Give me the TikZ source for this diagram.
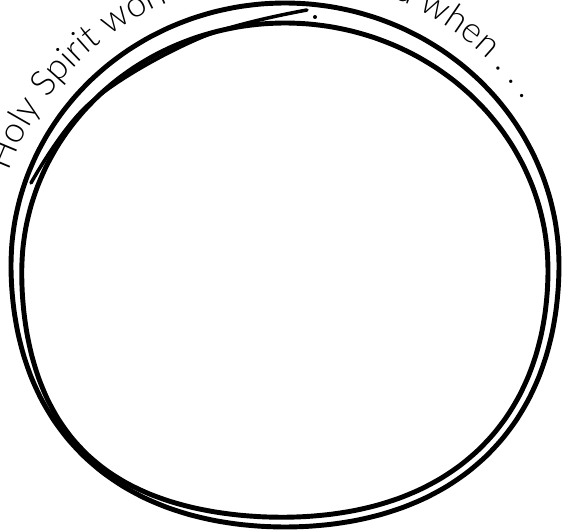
\documentclass[tikz,border=0pt]{standalone}
\usepackage{fontspec}
\setmainfont{Lato}[UprightFont=* Light]
\usetikzlibrary{decorations.text}
\begin{document}
\begin{tikzpicture}[
    sketch/.style={line width=2.8pt,line cap=round,line join=round},
    declare function={sq(\t)=1+0.035*sin(2*\t)*sin(2*\t)*(sin(\t)<0);
                      bump(\t)=0.025*exp(-((\t-225)/25)^2);}]
  \useasboundingbox (0,0) rectangle (11.42,10.62);
  \clip (0,0) rectangle (11.42,10.62);
  \coordinate (centre) at (5.70,5.18);
  % Circle - outer loop
  \draw[sketch] plot[smooth cycle,domain=0:355,samples=72,variable=\t]
    ({5.70+5.48*cos(\t)*sq(\t)},{5.32+5.24*sin(\t)*sq(\t)});
  % Circle - inner loop
  \draw[sketch] plot[smooth cycle,domain=0:355,samples=72,variable=\t]
    ({5.70+5.26*cos(\t)*(sq(\t)+bump(\t))},{5.22+4.94*sin(\t)*(sq(\t)+bump(\t))});
  % Extra stroke top left
  \draw[sketch,line width=2pt] plot[smooth,tension=0.6] coordinates {
    (0.62,6.96) (1.80,8.56) (4.00,9.86) (6.14,10.42)};
  \fill (6.30,10.28) circle (0.04);
  % Text round the top
  \path[decorate,decoration={text along path,text align=left,
      text={|\fontsize{20.3}{24}\selectfont|Holy Spirit working in the world when . . .}}]
    (centre) ++(160:5.88) arc[start angle=160,end angle=20,radius=5.88];
\end{tikzpicture}
\end{document}
